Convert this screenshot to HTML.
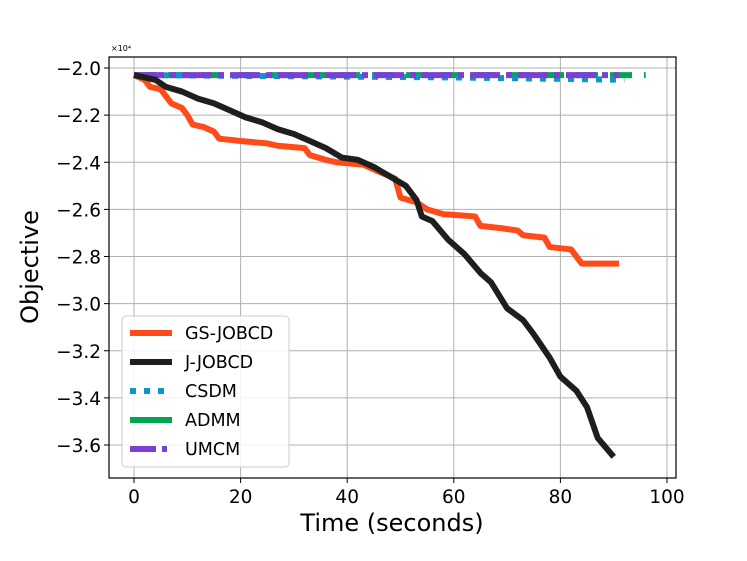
<!DOCTYPE html>
<html><head><meta charset="utf-8"><style>
html,body{margin:0;padding:0;background:#fff;}
svg{display:block;font-family:"DejaVu Sans","Liberation Sans",sans-serif;}
</style></head><body>
<svg id="chart" width="747" height="561"></svg>
<script>
const xTicks=[0,20,40,60,80,100];
const yTicks=[-2.0,-2.2,-2.4,-2.6,-2.8,-3.0,-3.2,-3.4,-3.6];
const gsT=[0,2,3,5,6,7,9,10,11,13,15,16,20,25,27,32,33,36,38,43,45,49,50,53,55,58,64,65,69,72,73,77,78,82,84,91];
const gsV=[-2.03,-2.05,-2.08,-2.09,-2.12,-2.15,-2.17,-2.2,-2.24,-2.25,-2.27,-2.3,-2.31,-2.32,-2.33,-2.34,-2.37,-2.39,-2.4,-2.41,-2.43,-2.47,-2.55,-2.57,-2.6,-2.62,-2.63,-2.67,-2.68,-2.69,-2.71,-2.72,-2.76,-2.77,-2.83,-2.83];
const jT=[0,4,6,9,12,15,18,21,24,27,30,33,36,39,42,45,48,51,53,54,56,59,62,65,67,70,73,75,78,80,83,85,87,90];
const jV=[-2.03,-2.05,-2.08,-2.1,-2.13,-2.15,-2.18,-2.21,-2.23,-2.26,-2.28,-2.31,-2.34,-2.38,-2.39,-2.42,-2.46,-2.5,-2.56,-2.63,-2.65,-2.73,-2.79,-2.87,-2.91,-3.02,-3.07,-3.13,-3.23,-3.31,-3.37,-3.44,-3.57,-3.65];
const csdmT=[0,30,60,92];const csdmV=[-2.03,-2.035,-2.04,-2.05];
const admmT=[0,96];const admmV=[-2.03,-2.03];
const umcmT=[0,91];const umcmV=[-2.03,-2.03];
const NS="http://www.w3.org/2000/svg";
const svg=document.getElementById('chart');
const L=109,R=676,T=57,B=478;
const X=t=>134+t*(667-134)/100;
const Y=v=>68+(-2.0-v)*(445-68)/1.6;
function mk(tag,attrs,parent){const e=document.createElementNS(NS,tag);for(const k in attrs)e.setAttribute(k,attrs[k]);(parent||svg).appendChild(e);return e;}
xTicks.forEach(t=>{const g=mk('line',{x1:X(t),x2:X(t),y1:T,y2:B,stroke:'#b0b0b0','stroke-width':1});


mk('line',{x1:X(t),x2:X(t),y1:B,y2:B+5,stroke:'#000'});
const tx=mk('text',{x:X(t),y:B+25,'text-anchor':'middle','font-size':18.5});tx.textContent=t;

});
yTicks.forEach(v=>{const g=mk('line',{x1:L,x2:R,y1:Y(v),y2:Y(v),stroke:'#b0b0b0','stroke-width':1});


mk('line',{x1:L-5,x2:L,y1:Y(v),y2:Y(v),stroke:'#000'});
const tx=mk('text',{x:L-8,y:Y(v)+7,'text-anchor':'end','font-size':18.5});tx.textContent=v.toFixed(1).replace('-','−');

});
function series(ts,vs,color,w,dash,name){const p=mk('polyline',{points:ts.map((t,i)=>X(t)+','+Y(vs[i])).join(' '),fill:'none',stroke:color,'stroke-width':w,'stroke-dasharray':dash||'none','stroke-linejoin':'round'});

}
series(admmT,admmV,'#00a651',6,'22 12','admm-line');
series(csdmT,csdmV,'#0f95c8',6,'6 8','csdm-line');
series(umcmT,umcmV,'#7a3fd4',6,'30 6 6 6','umcm-line');
series(gsT,gsV,'#ff4a1a',6,null,'gs-jobcd-line');
series(jT,jV,'#1e1e1e',6,null,'j-jobcd-line');
const fr=mk('rect',{x:L,y:T,width:R-L,height:B-T,fill:'none',stroke:'#000','stroke-width':1.2});


const ex=mk('text',{x:111,y:51,'font-size':8});ex.textContent='×10⁴';


const xl=mk('text',{x:392,y:531,'text-anchor':'middle','font-size':24});xl.textContent='Time (seconds)';


const yl=mk('text',{x:38,y:267,'text-anchor':'middle','font-size':24,transform:'rotate(-90 38 267)'});yl.textContent='Objective';


const lg=mk('rect',{x:122,y:316,width:167,height:151,rx:4,fill:'#fff','fill-opacity':0.85,stroke:'#ccc'});


const ents=[['GS-JOBCD','#ff4a1a','none'],['J-JOBCD','#1e1e1e','none'],['CSDM','#0f95c8','6 8'],['ADMM','#00a651','none'],['UMCM','#7a3fd4','26 6 5 6']];
ents.forEach((e,i)=>{const y=333+i*29;
const ln=mk('line',{x1:130,x2:172,y1:y,y2:y,stroke:e[1],'stroke-width':6,'stroke-dasharray':e[2]});


const t=mk('text',{x:185,y:y+6,'font-size':17.5});t.textContent=e[0];

});
</script>
</body></html>
